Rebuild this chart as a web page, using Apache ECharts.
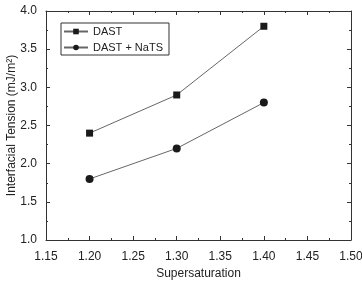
<!DOCTYPE html>
<html>
<head>
<meta charset="utf-8">
<script src="https://cdn.jsdelivr.net/npm/echarts@6/dist/echarts.min.js"></script>
<style>
  html, body { margin: 0; padding: 0; background: #fff; }
  #chart { width: 362px; height: 281px; }
</style>
</head>
<body>
<div id="chart"></div>
<script>
var supersat = [1.20, 1.30, 1.40];
var dast = [2.4, 2.9, 3.8];
var dastNats = [1.8, 2.2, 2.8];
var seriesNames = ['DAST', 'DAST + NaTS'];

var myChart = echarts.init(document.getElementById('chart'));
var font = 'Liberation Sans, Arial, sans-serif';

function pairs(xs, ys) {
  return xs.map(function (x, i) { return [x, ys[i]]; });
}

var tickStyle = { show: true, inside: true, length: 4, lineStyle: { color: '#333', width: 1 } };
var minorStyle = { show: true, splitNumber: 2, length: 2, lineStyle: { color: '#333', width: 1 } };

var option = {
  animation: false,
  textStyle: { fontFamily: font },
  grid: { left: 46, right: 11, top: 11, bottom: 41, containLabel: false, outerBoundsMode: 'none' },
  legend: {
    orient: 'vertical',
    left: 61,
    top: 23,
    data: seriesNames,
    borderColor: '#333',
    borderWidth: 1,
    borderRadius: 0,
    padding: [3, 6, 2, 2],
    itemWidth: 24,
    itemHeight: 7,
    itemGap: 5,
    textStyle: { fontSize: 11, color: '#222', fontFamily: font }
  },
  xAxis: [{
    type: 'value',
    min: 1.15, max: 1.5, interval: 0.05,
    name: 'Supersaturation',
    nameLocation: 'middle',
    nameMoveOverlap: false,
    nameGap: 28,
    nameTextStyle: { fontSize: 12, color: '#222' },
    axisLine: { lineStyle: { color: '#333' } },
    axisTick: tickStyle,
    minorTick: minorStyle,
    splitLine: { show: false },
    axisLabel: { fontSize: 12, color: '#222', margin: 11, formatter: function (v) { return v.toFixed(2); } }
  }, {
    type: 'value',
    position: 'top',
    min: 1.15, max: 1.5, interval: 0.05,
    axisLine: { show: true, lineStyle: { color: '#333' } },
    axisTick: tickStyle,
    minorTick: minorStyle,
    splitLine: { show: false },
    axisLabel: { show: false }
  }],
  yAxis: [{
    type: 'value',
    min: 1.0, max: 4.0, interval: 0.5,
    name: 'Interfacial Tension (mJ/m²)',
    nameLocation: 'middle',
    nameMoveOverlap: false,
    nameGap: 28,
    nameTextStyle: { fontSize: 12, color: '#222' },
    axisLine: { show: true, lineStyle: { color: '#333' } },
    axisTick: tickStyle,
    minorTick: minorStyle,
    splitLine: { show: false },
    axisLabel: { fontSize: 12, color: '#222', margin: 9, formatter: function (v) { return v.toFixed(1); } }
  }, {
    type: 'value',
    position: 'right',
    min: 1.0, max: 4.0, interval: 0.5,
    axisLine: { show: true, lineStyle: { color: '#333' } },
    axisTick: tickStyle,
    minorTick: minorStyle,
    splitLine: { show: false },
    axisLabel: { show: false }
  }],
  series: [{
    name: seriesNames[0],
    type: 'line',
    data: pairs(supersat, dast),
    symbol: 'rect',
    symbolSize: 7,
    itemStyle: { color: '#1a1a1a' },
    lineStyle: { color: '#666', width: 1 }
  }, {
    name: seriesNames[1],
    type: 'line',
    data: pairs(supersat, dastNats),
    symbol: 'circle',
    symbolSize: 8,
    itemStyle: { color: '#1a1a1a' },
    lineStyle: { color: '#666', width: 1 }
  }]
};
myChart.setOption(option);
</script>
</body>
</html>
